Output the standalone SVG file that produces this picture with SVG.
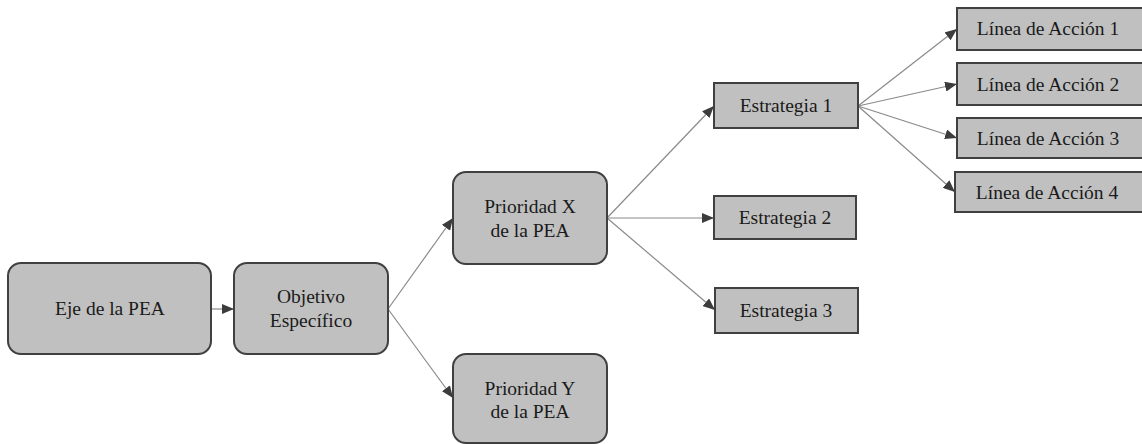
<svg xmlns="http://www.w3.org/2000/svg" width="1142" height="444" viewBox="0 0 1142 444">
<style>
.box{fill:#c0c0c0;stroke:#404040;stroke-width:2}
.t{font-family:'Liberation Serif','Times New Roman',serif;font-size:19.5px;fill:#1a1a1a;text-anchor:middle}
.e{stroke:#8a8a8a;stroke-width:1.2;fill:none;marker-end:url(#ah)}
</style>
<defs>
<marker id="ah" viewBox="0 0 12 10" refX="12" refY="5" markerWidth="12" markerHeight="10" markerUnits="userSpaceOnUse" orient="auto">
<path d="M0,0 L12,5 L0,10 z" fill="#3c3c3c"/>
</marker>
</defs>
<rect width="1142" height="444" fill="#fff"/>
<g id="connectors">
<line class="e" x1="211" y1="309" x2="234" y2="309"/>
<line class="e" x1="388" y1="309" x2="453" y2="218"/>
<line class="e" x1="388" y1="309" x2="453" y2="398"/>
<line class="e" x1="607" y1="218" x2="714" y2="106"/>
<line class="e" x1="607" y1="218" x2="714" y2="218"/>
<line class="e" x1="607" y1="218" x2="715" y2="310"/>
<line class="e" x1="858" y1="106" x2="957" y2="29"/>
<line class="e" x1="858" y1="106" x2="957" y2="84"/>
<line class="e" x1="858" y1="106" x2="957" y2="138"/>
<line class="e" x1="858" y1="106" x2="955" y2="192"/>
</g>
<g id="eje"><rect class="box" x="8" y="263" width="203" height="91" rx="13"/><text class="t" x="110" y="315">Eje de la PEA</text></g>
<g id="objetivo"><rect class="box" x="234" y="263" width="154" height="91" rx="13"/><text class="t" x="311" y="303">Objetivo</text><text class="t" x="311" y="327">Específico</text></g>
<g id="prioridadX"><rect class="box" x="453" y="172" width="154" height="92" rx="13"/><text class="t" x="530" y="213">Prioridad X</text><text class="t" x="530" y="237">de la PEA</text></g>
<g id="prioridadY"><rect class="box" x="453" y="354" width="154" height="89" rx="13"/><text class="t" x="530" y="395">Prioridad Y</text><text class="t" x="530" y="418">de la PEA</text></g>
<g id="estrategia1"><rect class="box" x="714" y="83" width="144" height="45"/><text class="t" x="786" y="112">Estrategia 1</text></g>
<g id="estrategia2"><rect class="box" x="714" y="196" width="142" height="43"/><text class="t" x="785" y="224">Estrategia 2</text></g>
<g id="estrategia3"><rect class="box" x="715" y="288" width="143" height="45"/><text class="t" x="786" y="317">Estrategia 3</text></g>
<g id="linea1"><rect class="box" x="957" y="8" width="190" height="42"/><text class="t" x="1048" y="35">Línea de Acción 1</text></g>
<g id="linea2"><rect class="box" x="957" y="63" width="190" height="42"/><text class="t" x="1048" y="91">Línea de Acción 2</text></g>
<g id="linea3"><rect class="box" x="957" y="118" width="190" height="40"/><text class="t" x="1048" y="145">Línea de Acción 3</text></g>
<g id="linea4"><rect class="box" x="955" y="172" width="192" height="40"/><text class="t" x="1047" y="199">Línea de Acción 4</text></g>
</svg>
